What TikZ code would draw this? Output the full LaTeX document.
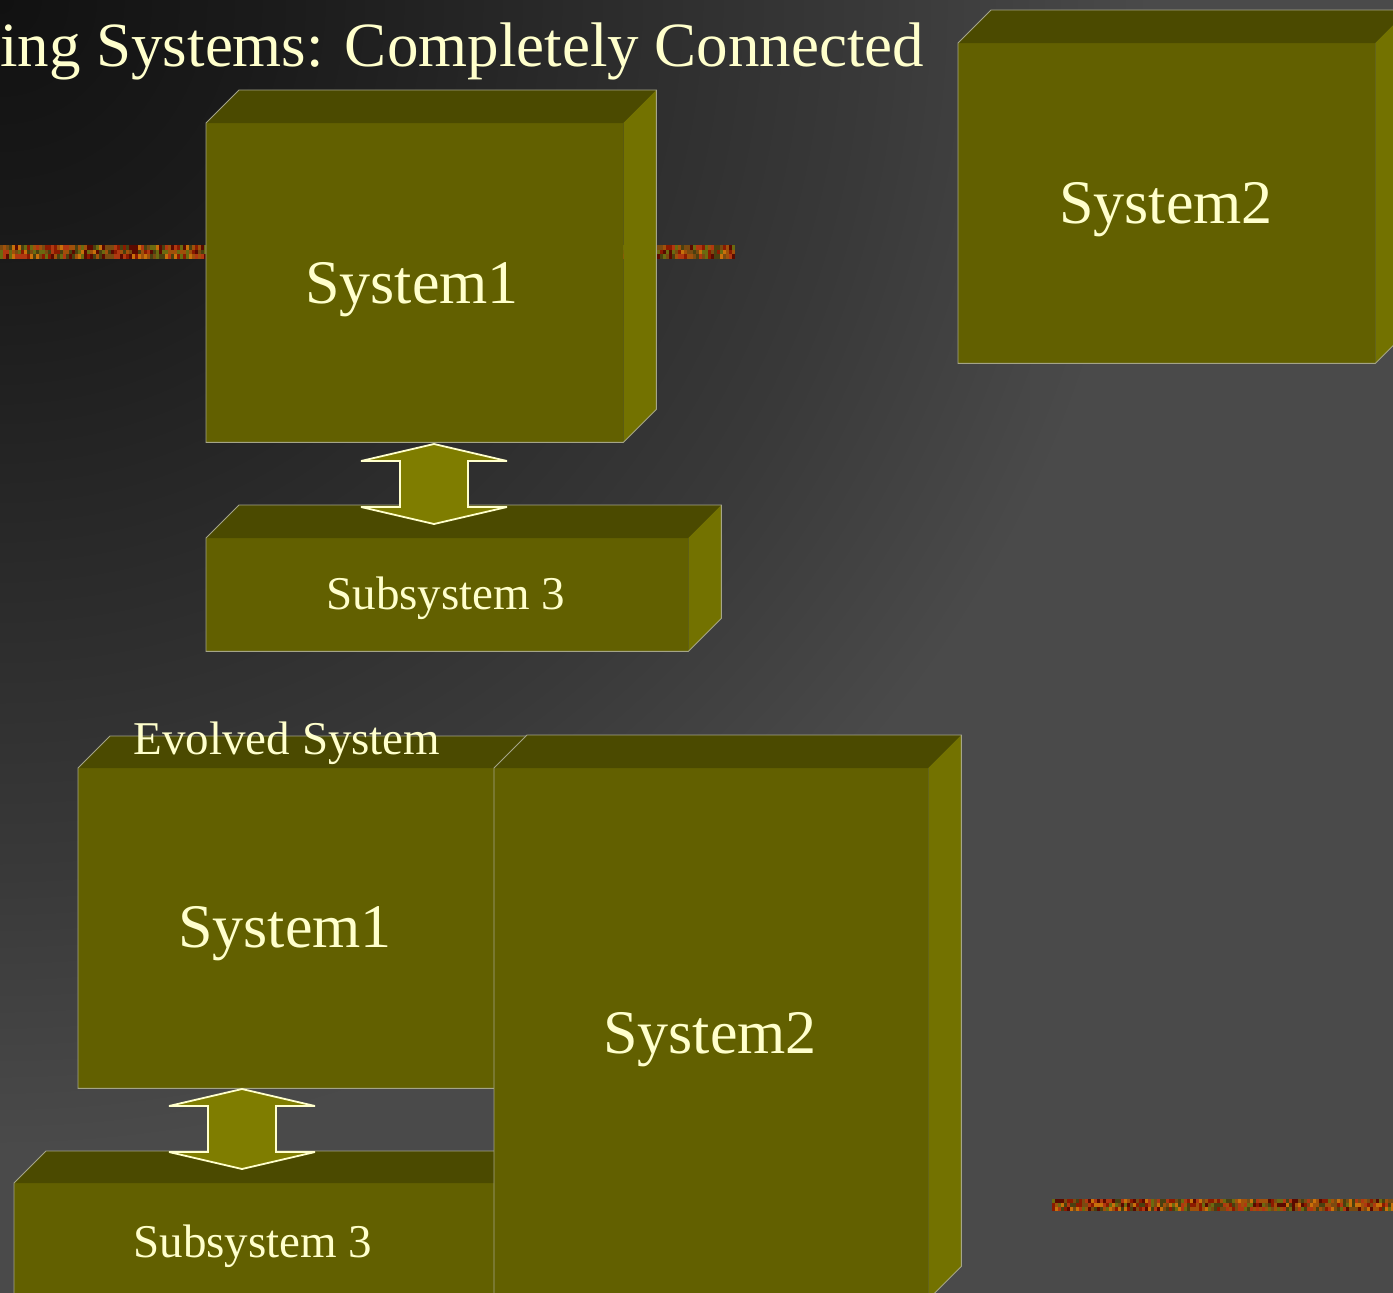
\documentclass[tikz,border=0pt]{standalone}
\usepackage{fontspec}
\setmainfont{Liberation Serif}
\usetikzlibrary{calc}

% backdrop tones
\definecolor{bg0}{HTML}{111111}
\definecolor{bg1}{HTML}{1B1B1B}
\definecolor{bg2}{HTML}{292929}
\definecolor{bg3}{HTML}{393939}
\definecolor{bg4}{HTML}{4A4A4A}
% block tones
\definecolor{frontc}{HTML}{626000}
\definecolor{topc}{HTML}{4B4A00}
\definecolor{sidec}{HTML}{737200}
\definecolor{arrowc}{HTML}{7F7D00}
\definecolor{cream}{HTML}{FFFFCC}
\definecolor{edgec}{HTML}{A4A488}
% textured rule tones
\definecolor{stripe1}{HTML}{A0500A}
\definecolor{stripe2}{HTML}{8B1A00}
\definecolor{stripe3}{HTML}{5A0A00}
\definecolor{stripe4}{HTML}{6B6A10}
\definecolor{stripe5}{HTML}{C8700A}
\definecolor{stripe6}{HTML}{4A4010}
\definecolor{stripe7}{HTML}{B03810}
\definecolor{stripe8}{HTML}{7A4A10}

\pgfdeclareradialshading{backdrop}{\pgfpoint{0bp}{0bp}}{%
  color(0bp)=(bg0); color(6bp)=(bg1); color(12bp)=(bg2);
  color(19bp)=(bg3); color(25bp)=(bg4); color(50bp)=(bg4)}

\tikzset{
  front/.style={fill=frontc, draw=none, inner sep=0pt, anchor=north west},
  lbl/.style={text=cream, inner sep=0pt},
  edge/.style={draw=edgec, line width=0.9pt, line join=miter},
  dblarrow/.style={fill=arrowc, draw=cream, line width=1.8pt,
    line join=miter, miter limit=1.5},
}

% top and side faces plus the outline of a block whose front face is node #1
\newcommand\cubefaces[2]{%
  \fill[topc] (#1.north west) -- ++(#2,-#2) -- ([shift={(#2,-#2)}]#1.north east)
    -- (#1.north east) -- cycle;
  \fill[sidec] (#1.north east) -- ++(#2,-#2) -- ([shift={(#2,-#2)}]#1.south east)
    -- (#1.south east) -- cycle;
  \draw[edge] (#1.south west) -- (#1.north west) -- ++(#2,-#2)
    -- ([shift={(#2,-#2)}]#1.north east) -- ([shift={(#2,-#2)}]#1.south east)
    -- (#1.south east) -- cycle;
}

% two-headed block arrow hanging from coordinate #1 (its upper tip)
\newcommand\updown[1]{%
  \draw[dblarrow] (#1) -- ++(73,17) -- ++(-39,0) -- ++(0,46) -- ++(39,0)
    -- ++(-73,17) -- ++(-73,-17) -- ++(39,0) -- ++(0,-46) -- ++(-39,0) -- cycle;
}

% mottled rule: x from #1 to #2, top at #3, #4 rows of height #5
\newcommand\texstripe[5]{%
  \pgfmathtruncatemacro\ncols{(#2-#1)/3-1}
  \foreach \cc in {0,...,\ncols}{%
    \foreach \rr in {1,...,#4}{%
      \pgfmathrandominteger{\k}{1}{8}%
      \fill[stripe\k] ({#1+3*\cc},{#3+(\rr-1)*#5}) rectangle ++(3,#5);
    }%
  }%
}

\begin{document}
\begin{tikzpicture}[x=1pt,y=-1pt]
\useasboundingbox (0,0) rectangle (1393,1293);
\begin{scope}
\clip (0,0) rectangle (1393,1293);

% backdrop
\fill[bg4] (0,0) rectangle (1393,1293);
\shade[shading=backdrop] (-1150,-1150) rectangle (1150,1150);
\fill[bg4, opacity=0.4] (1030,365) rectangle (1393,830);

% decorative rules
\pgfmathsetseed{11}
\texstripe{0}{735}{245}{3}{4.67}
\texstripe{1052}{1396}{1199}{3}{4}

% title
\node[lbl, anchor=base west, font=\fontsize{63}{70}\selectfont] (title) at (0,66)
  {ing Systems: Completely Connected};

% ---- separate systems ----
\node[front, minimum width=417, minimum height=319] (sysA) at (206,123) {};
\cubefaces{sysA}{33}
\node[lbl, font=\fontsize{62}{70}\selectfont] (sysAlbl) at (412,290) {System1};

\node[front, minimum width=417, minimum height=320] (sysB) at (958,43) {};
\cubefaces{sysB}{33}
\node[lbl, font=\fontsize{62}{70}\selectfont] (sysBlbl) at (1166,210) {System2};

\node[front, minimum width=482, minimum height=113] (subA) at (206,538) {};
\cubefaces{subA}{33}
\node[lbl, font=\fontsize{47}{54}\selectfont] (subAlbl) at (446,598) {Subsystem 3};

\coordinate (linkA) at (434,444);
\updown{linkA}

% ---- evolved system ----
\node[front, minimum width=416, minimum height=320] (sysC) at (78,768) {};
\cubefaces{sysC}{32}
\node[lbl, font=\fontsize{62}{70}\selectfont] (sysClbl) at (285,934) {System1};

\node[front, minimum width=500, minimum height=230] (subB) at (14,1183) {};
\cubefaces{subB}{32}
\node[lbl, font=\fontsize{47}{54}\selectfont] (subBlbl) at (253,1246) {Subsystem 3};

\coordinate (linkB) at (242,1089);
\updown{linkB}

\node[lbl, font=\fontsize{47}{54}\selectfont] (evolved) at (287,743) {Evolved System};

\node[front, minimum width=434, minimum height=531] (sysD) at (494,768) {};
\cubefaces{sysD}{33}
\node[lbl, font=\fontsize{62}{70}\selectfont] (sysDlbl) at (710,1040) {System2};

\end{scope}
\end{tikzpicture}
\end{document}
